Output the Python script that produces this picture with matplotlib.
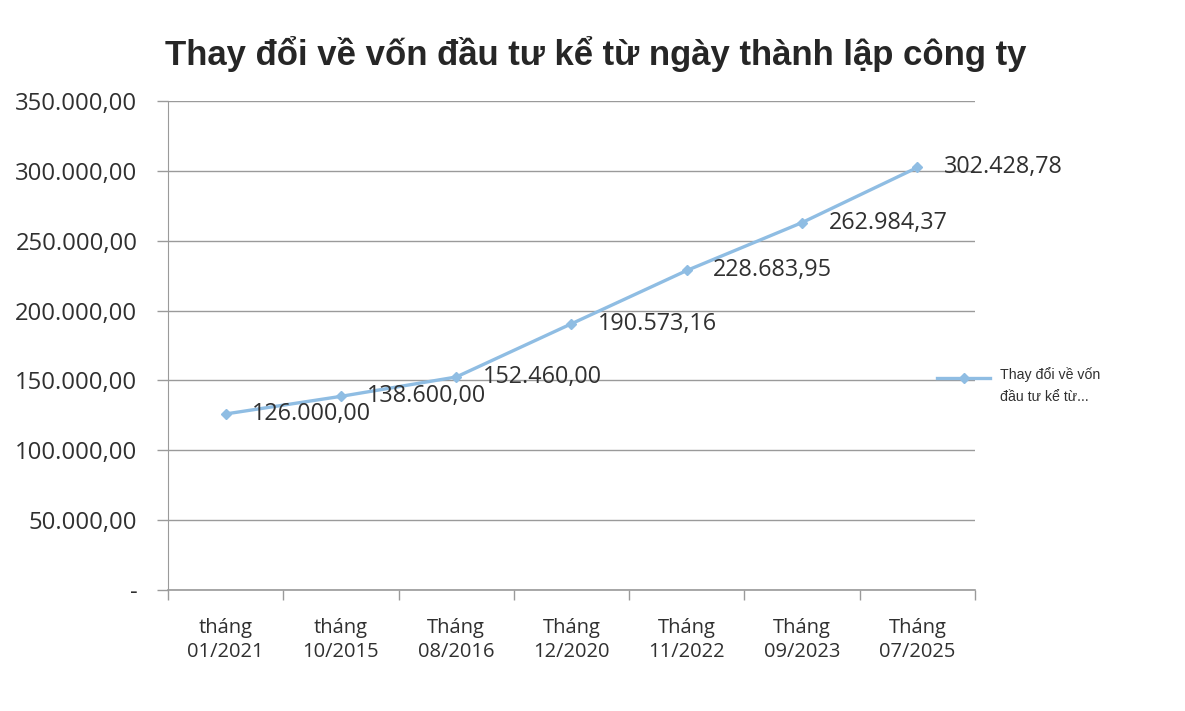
import matplotlib
matplotlib.use("Agg")
import matplotlib.pyplot as plt
from matplotlib.lines import Line2D

categories = ["tháng\n01/2021", "tháng\n10/2015", "Tháng\n08/2016", "Tháng\n12/2020",
              "Tháng\n11/2022", "Tháng\n09/2023", "Tháng\n07/2025"]
values = [126000.00, 138600.00, 152460.00, 190573.16, 228683.95, 262984.37, 302428.78]
title = "Thay đổi về vốn đầu tư kể từ ngày thành lập công ty"
legend_label = "Thay đổi về vốn\nđầu tư kể từ..."
yticks = [0, 50000, 100000, 150000, 200000, 250000, 300000, 350000]


def fmt(v):
    if v == 0:
        return "-"
    s = f"{v:,.2f}"
    return s.replace(",", "X").replace(".", ",").replace("X", ".")


line_color = "#8fbde3"
grid_color = "#9a9a9a"
text_color = "#303030"
tick_font = "Open Sans"
W, H = 1185, 711

fig = plt.figure(figsize=(11.85, 7.11), dpi=100)
ax = fig.add_axes([168 / W, 1 - 590 / H, (975 - 168) / W, (590 - 101) / H])

x = list(range(len(categories)))
ax.plot(x, values, color=line_color, lw=2.4, marker="D", ms=5,
        markerfacecolor=line_color, markeredgecolor=line_color)

for xi, v in zip(x, values):
    ax.annotate(fmt(v), (xi, v), xytext=(19, 0), textcoords="offset points",
                ha="left", va="center", fontsize=16.8, family=tick_font, color=text_color)

ax.set_xlim(-0.5, len(categories) - 0.5)
ax.set_ylim(0, 350000)
ax.set_yticks(yticks)
ax.set_yticklabels([fmt(v) for v in yticks], fontsize=17.2, family=tick_font, color=text_color)

ax.set_xticks(x)
ax.set_xticklabels(categories, fontsize=14.5, family=tick_font, color=text_color, linespacing=1.25)
ax.tick_params(axis="x", length=0, pad=20)
ax.set_xticks([i - 0.5 for i in range(len(categories) + 1)], minor=True)
ax.tick_params(axis="x", which="minor", length=7, color=grid_color, width=1)
ax.tick_params(axis="y", length=8, color=grid_color, width=1, pad=14)

ax.grid(axis="y", color=grid_color, lw=1)
ax.set_axisbelow(True)
for s in ["top", "right"]:
    ax.spines[s].set_visible(False)
ax.spines["left"].set_color(grid_color)
ax.spines["bottom"].set_color(grid_color)
ax.spines["bottom"].set_linewidth(1.2)

fig.text(596 / W, 1 - 54 / H, title, ha="center", va="center", fontsize=25,
         fontweight="bold", family="Liberation Sans", color="#262626")

# legend key drawn by hand so the key sits level with the first text line
fig.add_artist(Line2D([937 / W, 990 / W], [1 - 378 / H, 1 - 378 / H],
                      transform=fig.transFigure, color=line_color, lw=2.4))
fig.add_artist(Line2D([963.5 / W], [1 - 378 / H], transform=fig.transFigure,
                      color=line_color, marker="D", ms=5, lw=0))
fig.text(1000 / W, 1 - 367 / H, legend_label, ha="left", va="top", fontsize=10.2,
         family="Liberation Sans", color=text_color, linespacing=1.75)

fig.savefig("out.png", dpi=100, facecolor="white")
